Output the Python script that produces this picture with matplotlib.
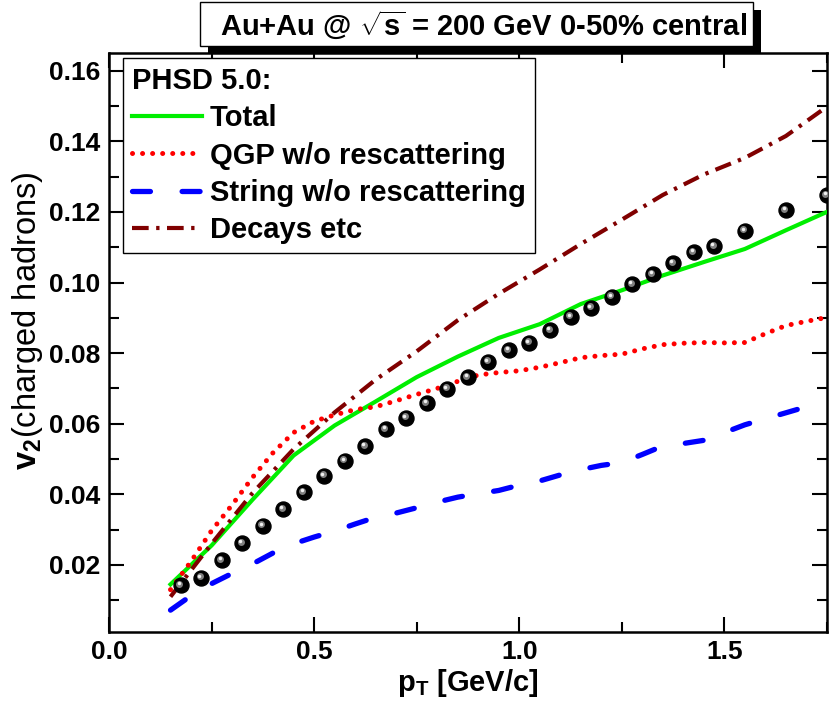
import numpy as np
import matplotlib
matplotlib.use('Agg')
import matplotlib.pyplot as plt
import matplotlib.patheffects as pe
from matplotlib.patches import Rectangle
from matplotlib.transforms import offset_copy

plt.rcParams['font.family'] = ['Liberation Sans', 'DejaVu Sans']
plt.rcParams['font.weight'] = 'bold'
plt.rcParams['mathtext.fontset'] = 'custom'
plt.rcParams['mathtext.rm'] = 'Liberation Sans'
plt.rcParams['mathtext.bf'] = 'Liberation Sans:bold'
plt.rcParams['mathtext.it'] = 'Liberation Sans:italic'

# data points (spheres)
pt_data = [0.175, 0.225, 0.275, 0.325, 0.375, 0.425, 0.475, 0.525, 0.575, 0.625,
           0.675, 0.725, 0.775, 0.825, 0.875, 0.925, 0.975, 1.025, 1.075, 1.125,
           1.175, 1.225, 1.275, 1.325, 1.375, 1.425, 1.475, 1.55, 1.65, 1.75]
v2_data = [0.0142, 0.0164, 0.0214, 0.0262, 0.0311, 0.0358, 0.0406, 0.0453, 0.0495, 0.0536,
           0.0584, 0.0617, 0.0658, 0.0699, 0.0732, 0.0775, 0.0808, 0.0830, 0.0865, 0.0903,
           0.0929, 0.0960, 0.0995, 0.1024, 0.1055, 0.1086, 0.1103, 0.1146, 0.1204, 0.1247]

# PHSD curves
pt_coarse = [0.15, 0.25, 0.35, 0.45, 0.55, 0.65, 0.75, 0.85, 0.95, 1.05,
             1.15, 1.25, 1.35, 1.45, 1.55, 1.65, 1.75]
v2_total = [0.0145, 0.0255, 0.0385, 0.0510, 0.0595, 0.0663, 0.0732, 0.0790, 0.0843, 0.0882,
            0.0939, 0.0978, 0.1020, 0.1058, 0.1095, 0.1148, 0.1200]
v2_decays = [0.0110, 0.0260, 0.0404, 0.0528, 0.0632, 0.0725, 0.0805, 0.0893, 0.0968, 0.1037,
             0.1109, 0.1178, 0.1248, 0.1306, 0.1353, 0.1415, 0.1498]

pt_fine = [0.15, 0.20, 0.25, 0.30, 0.35, 0.40, 0.45, 0.50, 0.55, 0.60, 0.65, 0.70,
           0.75, 0.80, 0.85, 0.90, 0.95, 1.00, 1.05, 1.10, 1.15, 1.20, 1.25, 1.30,
           1.35, 1.40, 1.45, 1.50, 1.55, 1.60, 1.65, 1.70, 1.75]
v2_qgp = [0.0130, 0.0210, 0.0297, 0.0370, 0.0448, 0.0518, 0.0575, 0.0607, 0.0625, 0.0640,
          0.0648, 0.0665, 0.0683, 0.0700, 0.0720, 0.0738, 0.0745, 0.0750, 0.0760, 0.0773,
          0.0787, 0.0793, 0.0797, 0.0812, 0.0824, 0.0828, 0.0830, 0.0829, 0.0830, 0.0855,
          0.0878, 0.0890, 0.0901]
v2_string = [0.0072, 0.0113, 0.0147, 0.0176, 0.0203, 0.0234, 0.0260, 0.0279, 0.0296, 0.0316,
             0.0335, 0.0347, 0.0362, 0.0378, 0.0392, 0.0402, 0.0411, 0.0426, 0.0438, 0.0455,
             0.0470, 0.0482, 0.0490, 0.0513, 0.0537, 0.0544, 0.0553, 0.0575, 0.0597, 0.0614,
             0.0631, 0.0648, 0.0663]

fig = plt.figure(figsize=(8.3, 7.05), dpi=100)
ax = fig.add_axes([0.1313, 0.1035, 0.865, 0.8213])

ax.plot(pt_coarse, v2_total, color='#00ee00', lw=3.0, label='Total', zorder=3)
ax.plot(pt_fine, v2_qgp, color='#ff0000', lw=3.6, linestyle=(0, (0.01, 2.0)),
        dash_capstyle='round', label='QGP w/o rescattering', zorder=3)
ax.plot(pt_fine, v2_string, color='#0000ff', lw=3.8, linestyle=(0, (3.4, 6.0)),
        dash_capstyle='round', label='String w/o rescattering', zorder=3)
ax.plot(pt_coarse, v2_decays, color='#800000', lw=3.0, linestyle=(0, (4.0, 1.8, 0.8, 1.8)),
        label='Decays etc', zorder=3)

# spheres
ax.plot(pt_data, v2_data, 'o', ms=10.8, color='black', mec='black', zorder=4)
ax.plot(pt_data, v2_data, 'o', ms=5, color='#808080', mec='none', zorder=5,
        transform=offset_copy(ax.transData, fig=fig, x=-1.5, y=1.5, units='dots'))
ax.plot(pt_data, v2_data, 'o', ms=2.5, color='#f0f0f0', mec='none', zorder=6,
        transform=offset_copy(ax.transData, fig=fig, x=-2, y=2, units='dots'))

ax.set_xlim(0, 1.75)
ax.set_ylim(0.001, 0.165)
ax.set_xticks([0.0, 0.5, 1.0, 1.5])
ax.set_xticks([0.25, 0.75, 1.25, 1.75], minor=True)
ax.set_yticks(np.arange(0.02, 0.161, 0.02))
ax.set_yticks(np.arange(0.01, 0.161, 0.02), minor=True)
ax.set_xticklabels(['0.0', '0.5', '1.0', '1.5'])
ax.set_yticklabels(['%.2f' % v for v in np.arange(0.02, 0.161, 0.02)])
ax.tick_params(which='both', direction='in', top=True, right=True, width=1.5,
               labelsize=19, pad=6)
ax.tick_params(which='major', length=11)
ax.tick_params(which='minor', length=7)
for s in ax.spines.values():
    s.set_linewidth(1.8)

ax.set_xlabel(r'$\mathbf{p}_\mathbf{T}$ [GeV/c]', fontsize=21, fontweight='bold', labelpad=2)
ax.text(-0.113, 0.537, r'$\mathbf{v}_\mathbf{2}$(charged hadrons)', rotation=90,
        ha='center', va='center', fontsize=23.5, fontweight='normal', transform=ax.transAxes)

leg = ax.legend(loc='upper left', bbox_to_anchor=(0.0195, 0.991), borderaxespad=0,
                title='PHSD 5.0:', alignment='left', fontsize=21, handlelength=2.4,
                handletextpad=0.28, labelspacing=0.32, fancybox=False, framealpha=1,
                edgecolor='black', borderpad=0.3,
                title_fontproperties={'size': 21, 'weight': 'bold'})
leg.get_frame().set_linewidth(1.0)
leg.set_zorder(10)

# title box with shadow
box = Rectangle((200 / 830, 1 - 46 / 705), 553 / 830, 44 / 705, transform=fig.transFigure,
                facecolor='white', edgecolor='black', lw=1.0, zorder=5,
                path_effects=[pe.SimplePatchShadow(offset=(6, -6), shadow_rgbFace='black',
                                                   alpha=1.0), pe.Normal()])
fig.patches.append(box)
fig.text(484 / 830, 1 - 25 / 705, r'Au+Au @ $\sqrt{\mathbf{s}}$ = 200 GeV 0-50% central',
         ha='center', va='center', fontsize=21, fontweight='bold', zorder=6)

plt.savefig('out.png', dpi=100)
